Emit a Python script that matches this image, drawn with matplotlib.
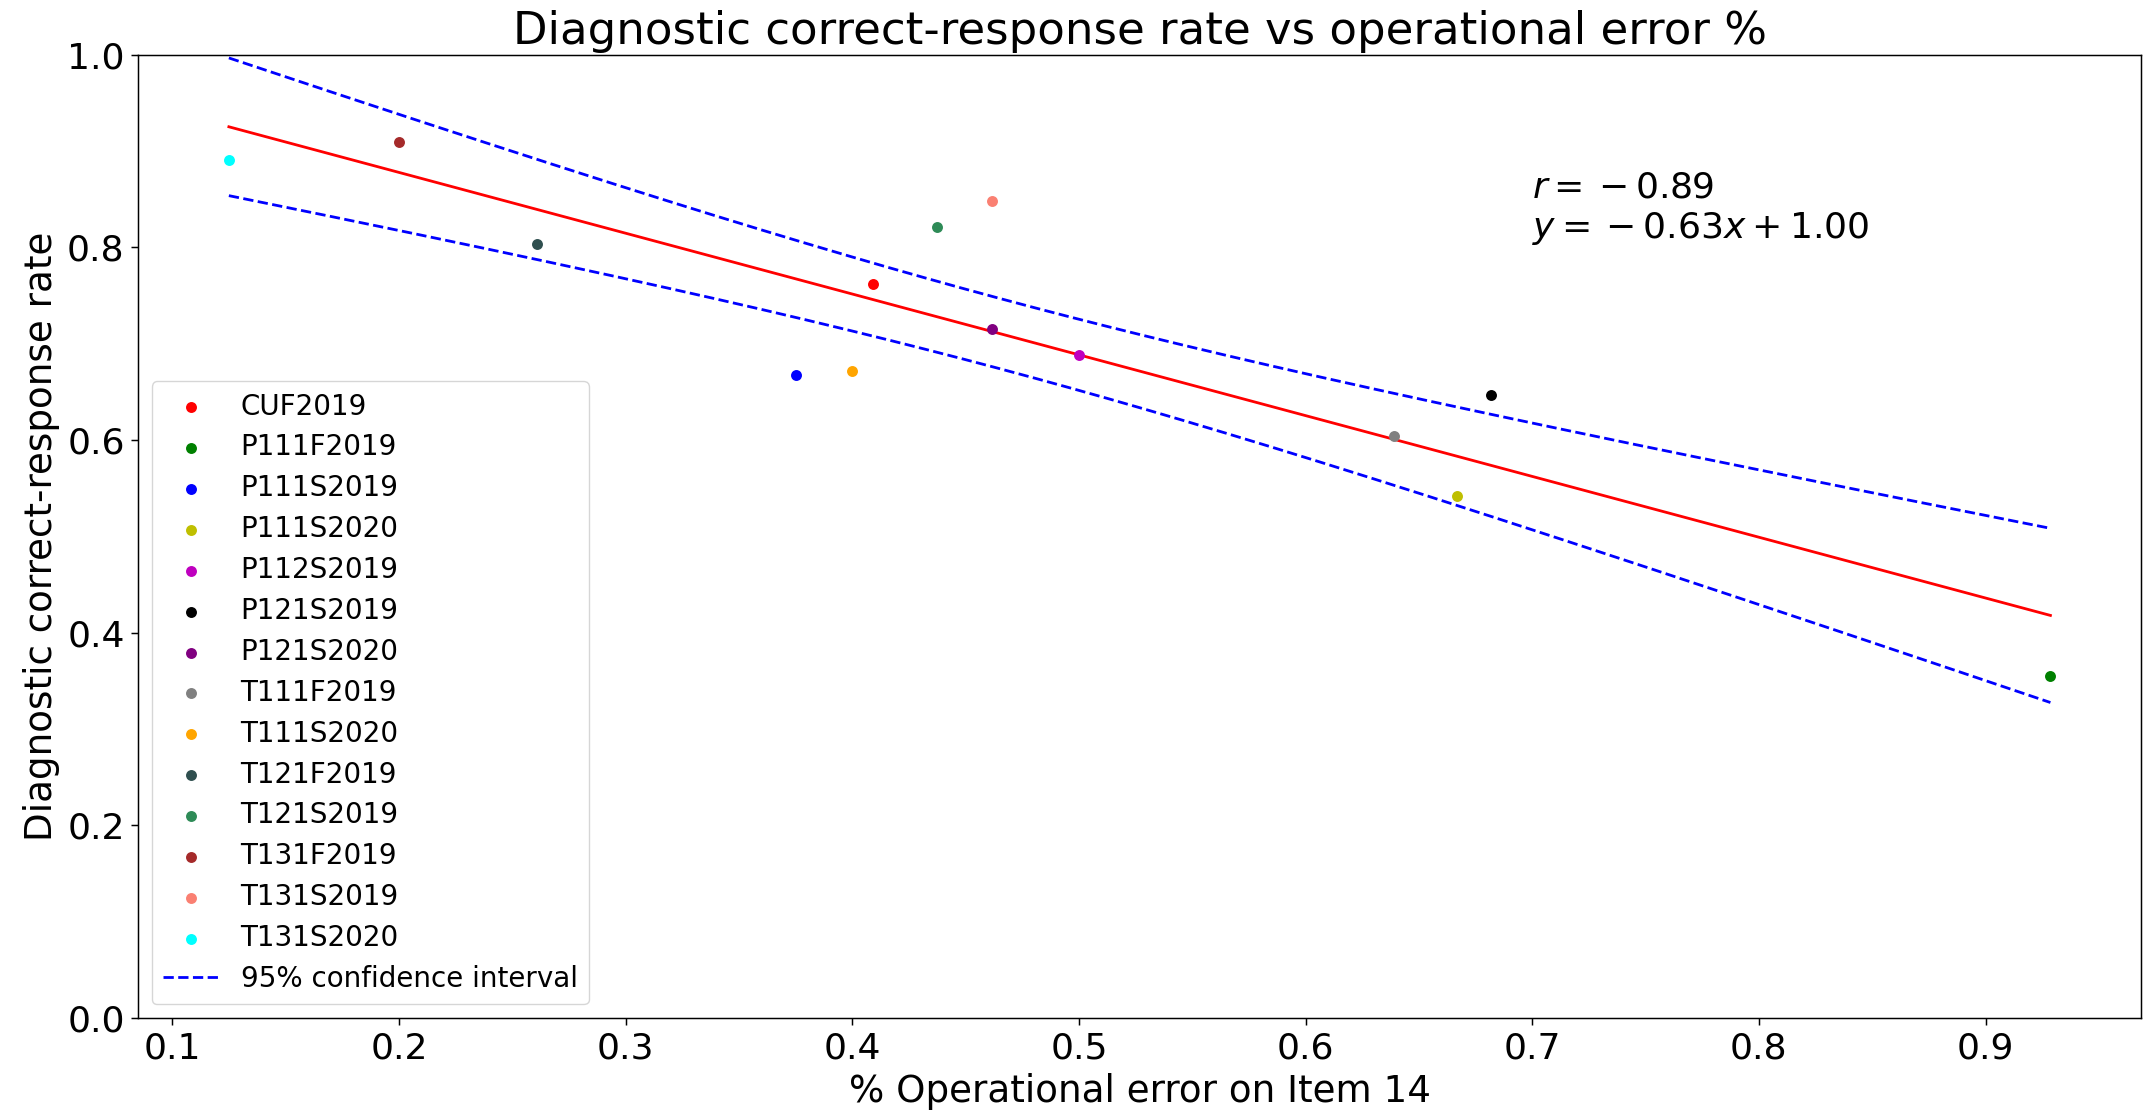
import numpy as np
import matplotlib
matplotlib.use("Agg")
import matplotlib.pyplot as plt

# course sections, % operational error on item 14, diagnostic correct-response rate
sections = ["CUF2019", "P111F2019", "P111S2019", "P111S2020", "P112S2019",
            "P121S2019", "P121S2020", "T111F2019", "T111S2020", "T121F2019",
            "T121S2019", "T131F2019", "T131S2019", "T131S2020"]
op_error = [0.409, 0.9286, 0.375, 0.6667, 0.5,
            0.6818, 0.4615, 0.6389, 0.4, 0.2609,
            0.4375, 0.2, 0.4615, 0.125]
correct_rate = [0.762, 0.355, 0.667, 0.542, 0.688,
                0.647, 0.715, 0.604, 0.672, 0.803,
                0.821, 0.909, 0.848, 0.891]
colors = ["r", "g", "b", "y", "m",
          "k", "purple", "gray", "orange", "darkslategray",
          "seagreen", "brown", "salmon", "cyan"]

x = np.array(op_error)
y = np.array(correct_rate)

# least squares fit + 95% band for the mean
b, a = np.polyfit(x, y, 1)
r = np.corrcoef(x, y)[0, 1]
n = len(x)
s = np.sqrt(np.sum((y - (a + b * x)) ** 2) / (n - 2))
sxx = np.sum((x - x.mean()) ** 2)
xs = np.linspace(x.min(), x.max(), 200)
fit = a + b * xs
hw = 1.96 * s * np.sqrt(1.0 / n + (xs - x.mean()) ** 2 / sxx)

fig = plt.figure(figsize=(21.43, 11.13), dpi=100)
ax = fig.add_axes([0.0643, 0.0854, 0.9350, 0.8655])

for xi, yi, c, lab in zip(x, y, colors, sections):
    ax.scatter(xi, yi, s=62, color=c, linewidths=0, label=lab, zorder=3)

ax.plot(xs, fit, color="r", lw=2.0)
ax.plot(xs, fit + hw, "b--", lw=2.0, label="95% confidence interval")
ax.plot(xs, fit - hw, "b--", lw=2.0)

# {} before the sign keeps the old spaced-out minus look
ax.text(0.70, 0.80, "$r={}%.2f$\n$y={}%.2fx+%.2f$" % (r, b, a), fontsize=26, va="bottom")

ax.set_ylim(0, 1.0)
ax.set_title("Diagnostic correct-response rate vs operational error %", fontsize=32.4, pad=8)
ax.set_xlabel("% Operational error on Item 14", fontsize=26.8, labelpad=5.4)
ax.set_ylabel("Diagnostic correct-response rate", fontsize=26.8, labelpad=5.4)
ax.tick_params(labelsize=26, length=4.7, width=1.07, pad=4.7)
for sp in ax.spines.values():
    sp.set_linewidth(1.07)

ax.legend(loc="lower left", fontsize=20, labelspacing=0.464)

fig.savefig("out.png", dpi=100)
